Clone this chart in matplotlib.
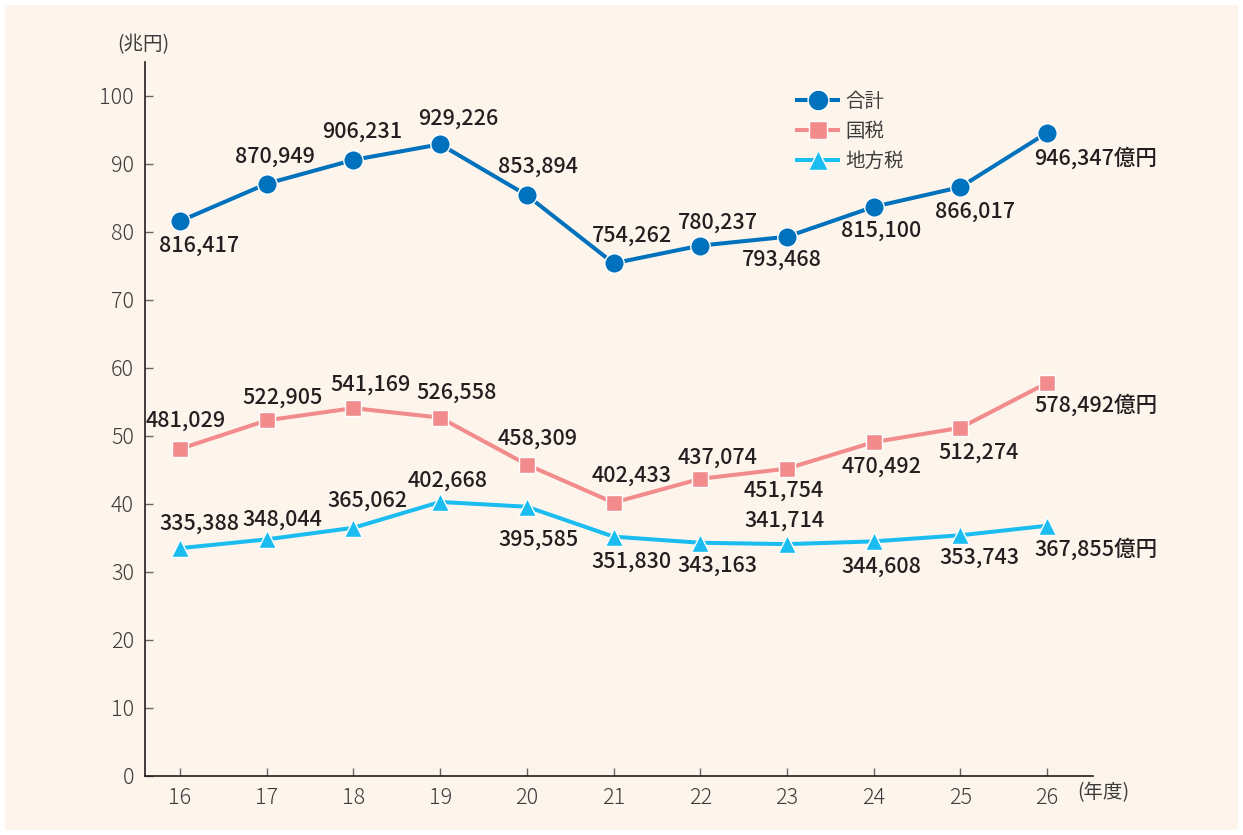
import matplotlib
matplotlib.use("Agg")
import matplotlib.pyplot as plt
from matplotlib.lines import Line2D
from matplotlib.patches import Rectangle

plt.rcParams['font.family'] = ['Noto Sans CJK JP', 'DejaVu Sans']

# label values (億円)
years = [16, 17, 18, 19, 20, 21, 22, 23, 24, 25, 26]
total = [816417, 870949, 906231, 929226, 853894, 754262, 780237, 793468, 815100, 866017, 946347]
national = [481029, 522905, 541169, 526558, 458309, 402433, 437074, 451754, 470492, 512274, 578492]
local = [335388, 348044, 365062, 402668, 395585, 351830, 343163, 341714, 344608, 353743, 367855]
# plotted heights as drawn in the chart (兆円)
total_plot = [81.6, 87.1, 90.6, 92.9, 85.4, 75.4, 78.0, 79.3, 83.7, 86.6, 94.6]
national_plot = [48.1, 52.3, 54.1, 52.7, 45.8, 40.2, 43.7, 45.2, 49.1, 51.2, 57.8]
local_plot = [33.5, 34.8, 36.5, 40.3, 39.6, 35.2, 34.3, 34.1, 34.5, 35.4, 36.8]
series_names = ["合計", "国税", "地方税"]
y_ticks = [0, 10, 20, 30, 40, 50, 60, 70, 80, 90, 100]

# label offsets in pixels (dx, dy), last point is left aligned
total_off = [(19, -25), (8, 27), (9, 28), (18, 26), (11, 29), (18, 28), (18, 23), (-5, -23), (7, -24), (15, -25), (-13, -26)]
national_off = [(6, 28), (16, 23), (17, 23), (16, 25), (11, 26), (18, 27), (17, 21), (-3, -22), (8, -25), (18, -25), (-13, -23)]
local_off = [(19, 24), (16, 20), (14, 27), (7, 21), (12, -33), (18, -25), (17, -23), (-2, 23), (8, -25), (19, -22), (-13, -24)]

BG = "#FDF5EC"
TXT = "#231F20"
TICK = "#3C3C3C"
colors = ["#0071BC", "#F28B8B", "#1BBDF0"]
markers = ["o", "s", "^"]
msizes = [14, 12, 13.5]

fig = plt.figure(figsize=(12.43, 8.35), dpi=100)
fig.patch.set_facecolor("white")
fig.patches.append(Rectangle((5 / 1243, 5 / 835), 1233 / 1243, 825 / 835,
                             transform=fig.transFigure, facecolor=BG, edgecolor="none", zorder=-10))

ax = fig.add_axes([145 / 1243, 1 - 776 / 835, 948 / 1243, 714 / 835])
ax.set_facecolor("none")
ax.set_xlim(15.596, 26.53)
ax.set_ylim(0, 105)

for sp in ["top", "right"]:
    ax.spines[sp].set_visible(False)
for sp in ["left", "bottom"]:
    ax.spines[sp].set_color(TXT)
    ax.spines[sp].set_linewidth(1.2)

ax.set_xticks(years)
ax.set_xticklabels([str(y) for y in years])
ax.set_yticks(y_ticks)
ax.tick_params(axis="both", direction="in", length=6, width=1, color="#666666",
               labelsize=15.5, labelcolor=TICK)
ax.tick_params(axis="y", pad=8)
ax.tick_params(axis="x", pad=8)
for lab in ax.get_xticklabels() + ax.get_yticklabels():
    lab.set_fontweight("light")

all_plot = [total_plot, national_plot, local_plot]
all_lab = [total, national, local]
all_off = [total_off, national_off, local_off]
for yv, vals, offs, c, m, ms in zip(all_plot, all_lab, all_off, colors, markers, msizes):
    ax.plot(years, yv, color=c, lw=2.9, marker=m, markersize=ms,
            markeredgecolor="white", markeredgewidth=1.0, zorder=3, clip_on=False)
    for i, (x, y, v) in enumerate(zip(years, yv, vals)):
        dx, dy = offs[i]
        txt = f"{v:,}"
        ha = "center"
        if i == len(years) - 1:
            txt += "億円"
            ha = "left"
        ax.annotate(txt, (x, y), xytext=(dx, dy), textcoords="offset pixels",
                    ha=ha, va="center", fontsize=15.5, fontweight="medium", color=TXT, zorder=4)

handles = [Line2D([], [], color=c, lw=2.9, marker=m, markersize=ms + 1,
                  markeredgecolor="white", markeredgewidth=1.0)
           for c, m, ms in zip(colors, markers, msizes)]
leg = ax.legend(handles, series_names, loc="upper left", bbox_to_anchor=(0.688, 0.959),
                frameon=False, fontsize=14, handlelength=2.1, handletextpad=0.4,
                labelspacing=0.45, borderpad=0, borderaxespad=0)
for t in leg.get_texts():
    t.set_color(TICK)

fig.text(143 / 1243, 1 - 45 / 835, "(兆円)", ha="center", va="center", fontsize=14, color=TICK)
fig.text(1103 / 1243, 1 - 793 / 835, "(年度)", ha="center", va="center", fontsize=14, color=TICK)

fig.savefig("out.png", dpi=100, facecolor=fig.get_facecolor())
